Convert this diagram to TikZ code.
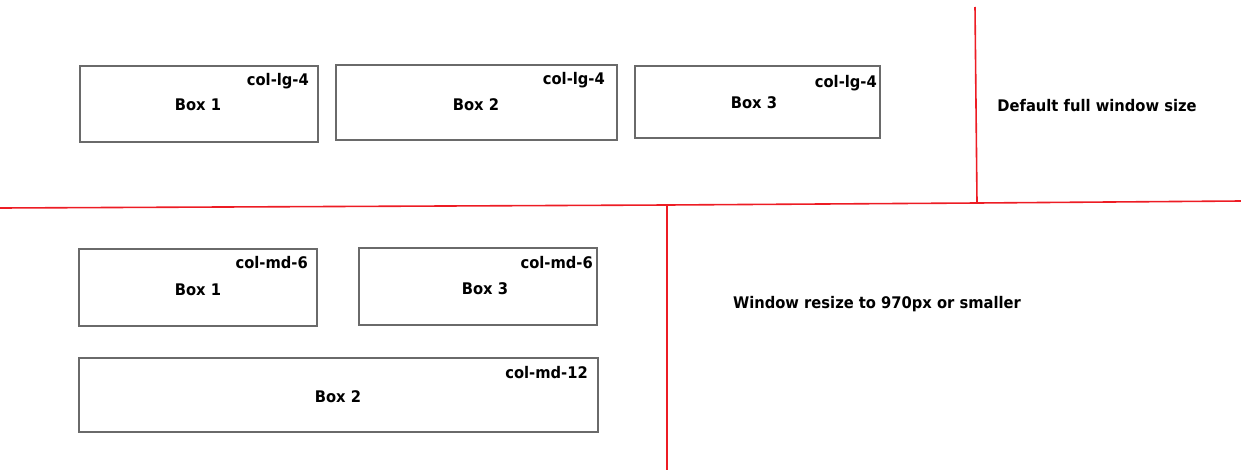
\documentclass[tikz,border=0pt]{standalone}
\usepackage{fontspec}
\setmainfont{DejaVu Sans}[FakeStretch=0.92]
\begin{document}
\begin{tikzpicture}[x=1pt,y=-1pt,
  gbox/.style={draw=boxgray,line width=1.8pt,inner sep=0pt},
  lbl/.style={font=\fontsize{16}{18}\selectfont\bfseries,inner sep=0pt,anchor=base east},
  txt/.style={font=\fontsize{16}{18}\selectfont\bfseries,inner sep=0pt,anchor=base},
  redline/.style={draw=redc,line width=1.6pt}]
\definecolor{boxgray}{HTML}{6A6A6A}
\definecolor{redc}{HTML}{ED1C24}
\useasboundingbox (0,0) rectangle (1241,471);
% top row
\draw[gbox] (80,66) rectangle (318,142);
\coordinate (t1ne) at (318,66);
\draw[gbox] (336,65) rectangle (617,140);
\coordinate (t2ne) at (617,65);
\draw[gbox] (635,66) rectangle (880,138);
\coordinate (t3ne) at (880,66);
\node[lbl] (t1l) at ([shift={(-9,19)}]t1ne) {col-lg-4};
\node[lbl] (t2l) at ([shift={(-12,19)}]t2ne) {col-lg-4};
\node[lbl] (t3l) at ([shift={(-3,21)}]t3ne) {col-lg-4};
\node[txt] (t1) at (198,110) {Box 1};
\node[txt] (t2) at (476,110) {Box 2};
\node[txt] (t3) at (754,108) {Box 3};
% bottom
\draw[gbox] (79,249) rectangle (317,326);
\coordinate (b1ne) at (317,249);
\draw[gbox] (359,248) rectangle (597,325);
\coordinate (b3ne) at (597,248);
\draw[gbox] (79,358) rectangle (598,432);
\coordinate (b2ne) at (598,358);
\node[lbl] (b1l) at ([shift={(-9,19)}]b1ne) {col-md-6};
\node[lbl] (b3l) at ([shift={(-4,20)}]b3ne) {col-md-6};
\node[lbl] (b2l) at ([shift={(-10,20)}]b2ne) {col-md-12};
\node[txt] (b1) at (198,295) {Box 1};
\node[txt] (b3) at (485,294) {Box 3};
\node[txt] (b2) at (338,402) {Box 2};
% red lines
\coordinate (h0) at (0,208);
\coordinate (hj1) at (667,205);
\coordinate (hj2) at (977,203);
\coordinate (h1) at (1241,201);
\coordinate (vtop) at (975,7);
\coordinate (vbot) at (667,470);
\draw[redline] (h0) -- (hj1) -- (hj2) -- (h1);
\draw[redline] (vtop) -- (hj2);
\draw[redline] (hj1) -- (vbot);
\node[txt] (d1) at (1097,111) {Default full window size};
\node[txt] (d2) at (877,308) {Window resize to 970px or smaller};
\end{tikzpicture}
\end{document}
